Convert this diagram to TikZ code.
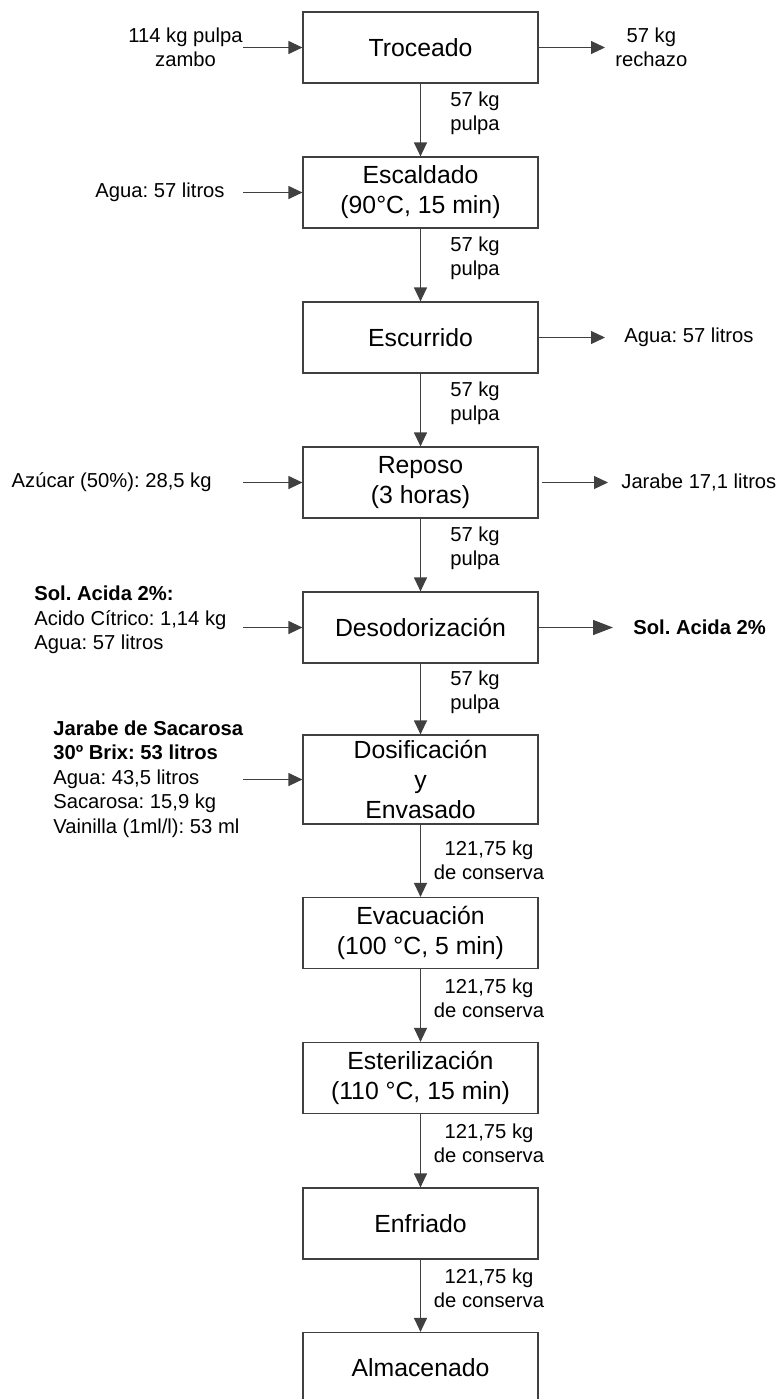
\documentclass[tikz,border=0pt]{standalone}
\usepackage{fontspec}
\setmainfont{Liberation Sans}
\frenchspacing
\usetikzlibrary{arrows.meta}

\begin{document}
\begin{tikzpicture}[x=0.5pt,y=-0.5pt,
        caja/.style={draw=black!75, line width=0.6pt, minimum width=117.5pt, minimum height=35.5pt,
                inner sep=0pt, align=center, font=\fontsize{12.4}{15}\selectfont},
        dato/.style={inner sep=0pt, align=center, font=\fontsize{10.1}{12}\selectfont},
        bloque/.style={inner sep=0pt, align=left, font=\fontsize{10.1}{12.25}\selectfont},
        pulpa/.style={dato, xshift=27.25pt, yshift=3.25pt},
        conserva/.style={dato, xshift=34.25pt, yshift=3.75pt},
        flujo/.style={draw=black!75, line width=0.6pt, -{Triangle[length=7pt,width=6.5pt]}}]
        \useasboundingbox (0,0) rectangle (781,1399);

        \node[caja] (troceado) at (420.5,47.5) {Troceado};
        \node[caja] (escaldado) at (420.5,192.5) {Escaldado\\(90°C, 15 min)};
        \node[caja] (escurrido) at (420.5,337.5) {Escurrido};
        \node[caja] (reposo) at (420.5,482.5) {Reposo\\(3 horas)};
        \node[caja] (desodorizacion) at (420.5,627.5) {Desodorización};
        \node[caja, minimum height=44.5pt] (dosificacion) at (420.5,779.5) {Dosificación\\y\\Envasado};
        \node[caja] (evacuacion) at (420.5,933) {Evacuación\\(100 °C, 5 min)};
        \node[caja] (esterilizacion) at (420.5,1078) {Esterilización\\(110 °C, 15 min)};
        \node[caja] (enfriado) at (420.5,1223.5) {Enfriado};
        \node[caja] (almacenado) at (420.5,1368) {Almacenado};

        \draw[flujo] (troceado) -- node[pulpa]{57 kg\\pulpa} (escaldado);
        \draw[flujo] (escaldado) -- node[pulpa]{57 kg\\pulpa} (escurrido);
        \draw[flujo] (escurrido) -- node[pulpa]{57 kg\\pulpa} (reposo);
        \draw[flujo] (reposo) -- node[pulpa]{57 kg\\pulpa} (desodorizacion);
        \draw[flujo] (desodorizacion) -- node[pulpa]{57 kg\\pulpa} (dosificacion);
        \draw[flujo] (dosificacion) -- node[conserva, yshift=-3.75pt]{121,75 kg\\de conserva} (evacuacion);
        \draw[flujo] (evacuacion) -- node[conserva]{121,75 kg\\de conserva} (esterilizacion);
        \draw[flujo] (esterilizacion) -- node[conserva]{121,75 kg\\de conserva} (enfriado);
        \draw[flujo] (enfriado) -- node[conserva]{121,75 kg\\de conserva} (almacenado);

        \node[dato, anchor=east] (zambo) at (243,47.5) {114 kg pulpa\\zambo};
        \node[dato, anchor=west] (rechazo) at (615,47.5) {57 kg\\rechazo};
        \node[dato, anchor=east] (aguaEsc) at (225,192.5) {Agua: 57 litros};
        \node[dato, anchor=west] (aguaEscur) at (624,337.5) {Agua: 57 litros};
        \node[dato, anchor=east] (azucar) at (212,482.5) {Azúcar (50\%): 28,5 kg};
        \node[dato, anchor=west] (jarabe) at (621,482.5) {Jarabe 17,1 litros};
        \node[bloque, anchor=west] (solAcida) at (34,620)
                {\textbf{Sol. Acida 2\%:}\\Acido Cítrico: 1,14 kg\\Agua: 57 litros};
        \node[dato, anchor=west, font=\fontsize{10.1}{12}\selectfont\bfseries] (solSalida) at (633,627.5) {Sol. Acida 2\%};
        \node[bloque, anchor=west] (sacarosa) at (53,779)
                {\textbf{Jarabe de Sacarosa}\\\textbf{30º Brix: 53 litros}\\Agua: 43,5 litros\\Sacarosa: 15,9 kg\\Vainilla (1ml/l): 53 ml};

        \coordinate (eTroceado) at (243,47.5);
        \coordinate (sTroceado) at (605,47.5);
        \coordinate (eEscaldado) at (243,192.5);
        \coordinate (sEscurrido) at (605,337.5);
        \coordinate (eReposo) at (243,482.5);
        \coordinate (sReposo) at (608,482.5);
        \coordinate (eDesodorizacion) at (243,627.5);
        \coordinate (sDesodorizacion) at (613,627.5);
        \coordinate (eDosificacion) at (243,779.5);

        \draw[flujo] (eTroceado) -- (troceado);
        \draw[flujo] (troceado) -- (sTroceado);
        \draw[flujo] (eEscaldado) -- (escaldado);
        \draw[flujo] (escurrido) -- (sEscurrido);
        \draw[flujo] (eReposo) -- (reposo);
        \draw[flujo] ([xshift=1.5pt]reposo.east) -- (sReposo);
        \draw[flujo] (eDesodorizacion) -- (desodorizacion);
        \draw[flujo, -{Triangle[length=10pt,width=7.5pt]}] (desodorizacion) -- (sDesodorizacion);
        \draw[flujo] (eDosificacion) -- (dosificacion);
\end{tikzpicture}
\end{document}
